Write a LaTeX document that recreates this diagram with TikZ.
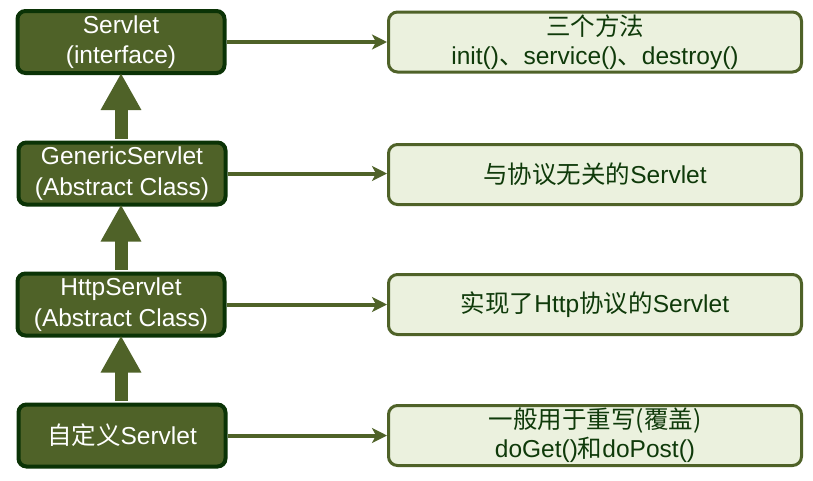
\documentclass[tikz,border=0pt]{standalone}
\usepackage{fontspec}
\setmainfont{Liberation Sans}
\newfontfamily\cjk{Noto Sans CJK SC}
\usetikzlibrary{arrows.meta}
\definecolor{olive}{HTML}{4F6228}
\definecolor{darkborder}{HTML}{0B3306}
\definecolor{lightfill}{HTML}{EBF1DE}
\definecolor{darktext}{HTML}{0F3A0A}
\tikzset{
  classbox/.style={draw=darkborder, line width=4pt, fill=olive, rounded corners=8pt,
    minimum width=207pt, minimum height=62pt, inner sep=0pt, text=white,
    font=\fontsize{24.5}{30.5}\selectfont, align=center},
  notebox/.style={draw=olive, line width=3pt, fill=lightfill, rounded corners=9pt,
    minimum width=413pt, minimum height=60pt, inner sep=0pt, text=darktext,
    font=\fontsize{24.5}{29}\selectfont, align=center},
  uparrow/.style={draw=olive, line width=13pt, -{Triangle[length=37pt,width=38pt]}},
  rightarrow/.style={draw=olive, line width=4pt, -{Stealth[length=15pt,width=15pt,inset=4pt]}}
}
\begin{document}
\begin{tikzpicture}[x=1pt,y=-1pt]
\useasboundingbox (0,0) rectangle (813,480);
\node[classbox] (c1) at (121,42) {Servlet\\(interface)};
\node[classbox] (c2) at (122,173.5) {GenericServlet\\(Abstract Class)};
\node[classbox] (c3) at (121,304.5) {HttpServlet\\(Abstract Class)};
\node[classbox] (c4) at (122,435.5) {{\cjk 自定义}Servlet};
\node[notebox] (n1) at (595,42) {{\cjk 三个方法}\\init(){\cjk 、}service(){\cjk 、}destroy()};
\node[notebox] (n2) at (595,174.5) {{\cjk 与协议无关的}Servlet};
\node[notebox] (n3) at (595,304.5) {{\cjk 实现了}Http{\cjk 协议的}Servlet};
\node[notebox] (n4) at (595,435.5) {{\cjk 一般用于重写(覆盖)}\\doGet(){\cjk 和}doPost()};
\draw[uparrow] (c2.north -| c1.south) ++(0,-2) -- ([yshift=2pt]c1.south);
\draw[uparrow] (c3.north -| c1.south) ++(0,-2) -- ([yshift=2pt]c2.south -| c1.south);
\draw[uparrow] (c4.north -| c1.south) ++(0,-2) -- ([yshift=2pt]c3.south -| c1.south);
\draw[rightarrow] (c1.east) -- (n1.west);
\draw[rightarrow] (c2.east) -- (c2.east -| n2.west);
\draw[rightarrow] (c3.east) -- (c3.east -| n3.west);
\draw[rightarrow] (c4.east) -- (c4.east -| n4.west);
\end{tikzpicture}
\end{document}
